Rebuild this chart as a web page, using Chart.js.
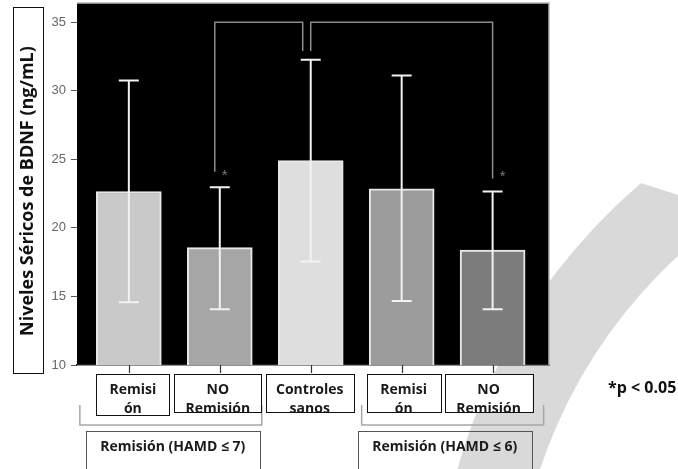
<!DOCTYPE html>
<html>
<head>
<meta charset="UTF-8">
<title>Niveles Séricos de BDNF</title>
<script src="https://cdn.jsdelivr.net/npm/chart.js"></script>
<style>
    html, body { margin: 0; padding: 0; background: #fff; }
    #wrap { width: 678px; height: 469px; }
</style>
</head>
<body>
<div id="wrap"><canvas id="bdnf-chart" width="678" height="469"></canvas></div>
<script>
    // data
    const categories = [['Remisi', 'ón'], ['NO', 'Remisión'], ['Controles', 'sanos'], ['Remisi', 'ón'], ['NO', 'Remisión']];
    const meanValues = [22.65, 18.56, 24.91, 22.85, 18.39];
    const errorUpper = [30.75, 22.97, 32.26, 31.12, 22.65];
    const errorLower = [14.58, 14.07, 17.54, 14.67, 14.07];
    const groupLabels = ['Remisión (HAMD ≤ 7)', 'Remisión (HAMD ≤ 6)'];
    const yTickValues = [10, 15, 20, 25, 30, 35];
    // significance brackets: top level, inner legs end, outer legs end
    const sigLevel = 35;
    const sigInnerEnd = 32.9;
    const sigOuterEnd = [24.1, 23.6];

    // styles
    const barFills = ['#c9c9c9', '#a6a6a6', '#dedede', '#9c9c9c', '#7c7c7c'];
    const boxWidths = [73, 87, 88, 74, 88];
    const boxShift = [4, -2, -1, 2, -4];
    const groupShift = [2, -8];
    const LABEL_FONT = 'bold 14px "Open Sans", sans-serif';
    const deg = Math.PI / 180;

    const decor = {
        id: 'decor',
        beforeDraw(chart) {
            const { ctx, chartArea: a } = chart;
            ctx.save();
            ctx.fillStyle = '#fff';
            ctx.fillRect(0, 0, chart.width, chart.height);
            // watermark ring segment
            ctx.fillStyle = '#d9d9d9';
            ctx.beginPath();
            ctx.arc(1023, 630, 588, 180 * deg, 229.5 * deg);
            ctx.lineTo(678, 195);
            ctx.lineTo(678, 256);
            ctx.arc(1023, 630, 509, 227.3 * deg, 180 * deg, true);
            ctx.closePath();
            ctx.fill();
            // black plot area
            ctx.fillStyle = '#000';
            ctx.fillRect(a.left, a.top, a.right - a.left, a.bottom - a.top);
            ctx.restore();
        },
        afterDatasetsDraw(chart) {
            const { ctx } = chart;
            const xs = chart.scales.x, ys = chart.scales.y;
            ctx.save();
            // error bars
            ctx.strokeStyle = '#f2f2f2';
            ctx.lineWidth = 2;
            meanValues.forEach((_, i) => {
                const x = xs.getPixelForValue(i);
                const yHi = ys.getPixelForValue(errorUpper[i]);
                const yLo = ys.getPixelForValue(errorLower[i]);
                ctx.beginPath();
                ctx.moveTo(x, yHi); ctx.lineTo(x, yLo);
                ctx.moveTo(x - 10, yHi); ctx.lineTo(x + 10, yHi);
                ctx.moveTo(x - 10, yLo); ctx.lineTo(x + 10, yLo);
                ctx.stroke();
            });
            // significance brackets
            ctx.strokeStyle = '#8c8c8c';
            ctx.lineWidth = 1.5;
            const yTop = ys.getPixelForValue(sigLevel);
            const yIn = ys.getPixelForValue(sigInnerEnd);
            const xL = xs.getPixelForValue(1) - 5;
            const xC = xs.getPixelForValue(2) - 4;
            const xR = xs.getPixelForValue(4);
            const yL = ys.getPixelForValue(sigOuterEnd[0]);
            const yR = ys.getPixelForValue(sigOuterEnd[1]);
            ctx.beginPath();
            ctx.moveTo(xL, yL); ctx.lineTo(xL, yTop); ctx.lineTo(xC - 4, yTop); ctx.lineTo(xC - 4, yIn);
            ctx.moveTo(xC + 4, yIn); ctx.lineTo(xC + 4, yTop); ctx.lineTo(xR, yTop); ctx.lineTo(xR, yR);
            ctx.stroke();
            ctx.fillStyle = '#7a7a7a';
            ctx.font = '15px "Liberation Sans", Arial, sans-serif';
            ctx.textAlign = 'center';
            ctx.textBaseline = 'middle';
            ctx.fillText('*', xL + 10, yL + 4);
            ctx.fillText('*', xR + 10, yR - 2);
            ctx.restore();
        },
        afterDraw(chart) {
            const { ctx, chartArea: a } = chart;
            const xs = chart.scales.x;
            ctx.save();
            // light frame top / right
            ctx.strokeStyle = '#b5b5b5';
            ctx.lineWidth = 1.5;
            ctx.beginPath();
            ctx.moveTo(a.left, a.top); ctx.lineTo(a.right, a.top); ctx.lineTo(a.right, a.bottom);
            ctx.stroke();

            // x tick marks
            ctx.strokeStyle = '#333';
            ctx.lineWidth = 1.2;
            categories.forEach((_, i) => {
                const x = Math.round(xs.getPixelForValue(i)) + 0.5;
                ctx.beginPath(); ctx.moveTo(x, a.bottom); ctx.lineTo(x, a.bottom + 8); ctx.stroke();
            });

            // group brackets
            ctx.strokeStyle = '#a6a6a6';
            ctx.lineWidth = 1.5;
            const brackets = [[xs.getPixelForValue(0) - 49, xs.getPixelForValue(1) + 42],
                              [xs.getPixelForValue(3) - 40, xs.getPixelForValue(4) + 51]];
            brackets.forEach(([l, r]) => {
                ctx.beginPath();
                ctx.moveTo(l, 405); ctx.lineTo(l, 425); ctx.lineTo(r, 425); ctx.lineTo(r, 405);
                ctx.stroke();
            });

            // category label boxes
            ctx.font = LABEL_FONT;
            ctx.textAlign = 'center';
            ctx.textBaseline = 'middle';
            categories.forEach((lines, i) => {
                const cx = xs.getPixelForValue(i) + boxShift[i];
                const w = boxWidths[i];
                const h = i === 0 ? 41 : 38;
                ctx.fillStyle = '#fff';
                ctx.fillRect(cx - w / 2, 374, w, h);
                ctx.fillStyle = '#1a1a1a';
                ctx.fillText(lines[0], cx, 390);
                ctx.fillText(lines[1], cx, 409);
                ctx.strokeStyle = '#111';
                ctx.lineWidth = 1;
                ctx.strokeRect(Math.round(cx - w / 2) + 0.5, 374.5, w, h);
            });

            // group boxes
            groupLabels.forEach((label, g) => {
                const [l, r] = brackets[g];
                const cx = (l + r) / 2 + groupShift[g];
                ctx.strokeStyle = '#555';
                ctx.lineWidth = 1;
                ctx.strokeRect(Math.round(cx - 87) + 0.5, 431.5, 174, 50);
                ctx.fillStyle = '#1a1a1a';
                ctx.fillText(label, cx, 447);
            });

            // y axis title in its box
            ctx.fillStyle = '#fff';
            ctx.fillRect(13, 7, 30, 366);
            ctx.strokeStyle = '#111';
            ctx.strokeRect(13.5, 7.5, 30, 366);
            ctx.translate(28, 191);
            ctx.rotate(-Math.PI / 2);
            ctx.fillStyle = '#111';
            ctx.font = 'bold 18px "Open Sans", sans-serif';
            ctx.fillText('Niveles Séricos de BDNF (ng/mL)', 0, 0);
            ctx.setTransform(1, 0, 0, 1, 0, 0);

            // p value note
            ctx.font = 'bold 16px "Open Sans", sans-serif';
            ctx.textAlign = 'left';
            ctx.fillStyle = '#111';
            ctx.fillText('*p < 0.05', 608, 388);
            ctx.restore();
        }
    };

    new Chart(document.getElementById('bdnf-chart'), {
        type: 'bar',
        data: {
            datasets: [{
                label: 'BDNF',
                data: meanValues.map((v, i) => ({ x: i, y: v })),
                backgroundColor: barFills,
                borderColor: '#e8e8e8',
                borderWidth: 2,
                barThickness: 65
            }]
        },
        options: {
            responsive: false,
            devicePixelRatio: 1,
            animation: false,
            layout: { padding: { top: 3, right: 129, left: 0, bottom: 0 } },
            plugins: { legend: { display: false }, tooltip: { enabled: false } },
            scales: {
                x: {
                    type: 'linear',
                    offset: false,
                    min: -0.57,
                    max: 4.62,
                    ticks: { display: false },
                    grid: { display: false },
                    border: { display: true, color: '#222', width: 1.5 },
                    afterFit: (s) => { s.height = 104; s.paddingLeft = 0; s.paddingRight = 0; }
                },
                y: {
                    min: 10,
                    max: 36.4,
                    afterBuildTicks: (s) => { s.ticks = yTickValues.map(v => ({ value: v })); },
                    ticks: {
                        color: '#666',
                        padding: 5,
                        font: { family: '"Liberation Sans", Arial, sans-serif', size: 13 }
                    },
                    grid: { drawOnChartArea: false, tickLength: 6, color: '#555', tickColor: '#555' },
                    border: { display: false },
                    afterFit: (s) => { s.width = 77; s.paddingTop = 0; s.paddingBottom = 0; }
                }
            }
        },
        plugins: [decor]
    });
</script>
</body>
</html>
